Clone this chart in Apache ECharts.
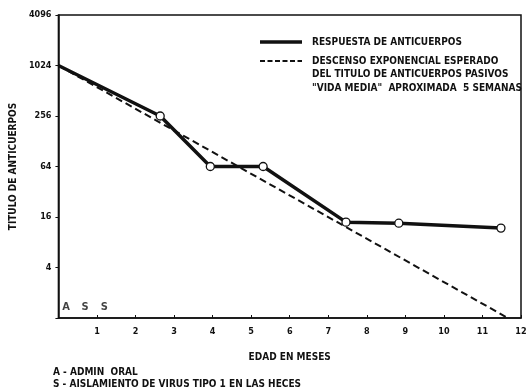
<!DOCTYPE html>
<html><head><meta charset="utf-8">
<script src="https://cdn.jsdelivr.net/npm/echarts@6/dist/echarts.min.js"></script>
<style>html,body{margin:0;padding:0;background:#fff}#c{width:530px;height:389px}</style>
</head><body><div id="c"></div>
<script>
// Data
const responseMonths = [0, 2.64, 3.94, 5.31, 7.46, 8.83, 11.48];
const responseTitre  = [1024, 256, 64, 64, 13.9, 13.5, 11.8];
const expectedMonths = [0, 11.66];
const expectedTitre  = [1024, 1];
const yTickLabels = [4, 16, 64, 256, 1024, 4096];
const xTickLabels = [1, 2, 3, 4, 5, 6, 7, 8, 9, 10, 11, 12];
const eventMonths = [0.20, 0.69, 1.19];
const eventLetters = ['A', 'S', 'S'];
const legendLines = {
  response: 'RESPUESTA DE ANTICUERPOS',
  expected: ['DESCENSO EXPONENCIAL ESPERADO', 'DEL TITULO DE ANTICUERPOS PASIVOS', '"VIDA MEDIA"  APROXIMADA  5 SEMANAS']
};
const footnotes = ['A - ADMIN  ORAL', 'S - AISLAMIENTO DE VIRUS TIPO 1 EN LAS HECES'];

const FONT = "'Liberation Sans Narrow', 'DejaVu Sans Condensed', 'Liberation Sans', sans-serif";
const INK = '#111';
const txt = (extra) => Object.assign({fontFamily: FONT, fontWeight: 'bold', fontSize: 10, fill: INK}, extra);

const chart = echarts.init(document.getElementById('c'), null, {renderer: 'canvas'});
chart.setOption({
  backgroundColor: '#fff',
  animation: false,
  grid: {left: 55, right: 9, top: 15, bottom: 71, show: true, borderColor: INK, borderWidth: 1.5, backgroundColor: 'transparent'},
  xAxis: {
    type: 'value', min: 0, max: 12, interval: 1,
    name: 'EDAD EN MESES', nameLocation: 'middle', nameGap: 34,
    nameTextStyle: {fontFamily: FONT, fontWeight: 'bold', fontSize: 10, color: INK},
    axisLine: {show: true, lineStyle: {color: INK, width: 1.5}},
    axisTick: {show: true, inside: true, length: 3, lineStyle: {color: INK}},
    splitLine: {show: false},
    axisLabel: {
      fontFamily: FONT, fontWeight: 'bold', fontSize: 9, color: INK, margin: 9,
      formatter: v => xTickLabels.indexOf(v) >= 0 ? String(v) : ''
    }
  },
  yAxis: {
    type: 'log', logBase: 4, min: 1, max: 4096,
    name: 'TITULO DE ANTICUERPOS', nameLocation: 'middle', nameGap: 38, nameRotate: 90,
    nameTextStyle: {fontFamily: FONT, fontWeight: 'bold', fontSize: 10, color: INK},
    axisLine: {show: true, lineStyle: {color: INK, width: 1.5}},
    axisTick: {show: true, inside: false, length: 3, lineStyle: {color: INK}},
    splitLine: {show: false},
    axisLabel: {
      fontFamily: FONT, fontWeight: 'bold', fontSize: 9, color: INK, margin: 7,
      formatter: v => yTickLabels.indexOf(Math.round(v)) >= 0 ? String(Math.round(v)) : ''
    }
  },
  series: [
    {
      name: 'expected', type: 'line',
      data: expectedMonths.map((m, i) => [m, expectedTitre[i]]),
      showSymbol: false, symbol: 'none',
      lineStyle: {color: INK, width: 2, type: [7, 4]},
      z: 2
    },
    {
      name: 'response', type: 'line',
      data: responseMonths.map((m, i) => ({value: [m, responseTitre[i]], symbol: i === 0 ? 'none' : 'circle'})),
      symbol: 'circle', symbolSize: 8, showSymbol: true,
      itemStyle: {color: '#fff', borderColor: INK, borderWidth: 1.3},
      lineStyle: {color: INK, width: 3.5},
      z: 3
    },
    {
      name: 'events', type: 'scatter',
      data: eventMonths.map((m, i) => ({value: [m, 1], name: eventLetters[i]})),
      symbolSize: 0,
      label: {show: true, position: 'top', distance: 5, formatter: p => p.name,
        fontFamily: FONT, fontWeight: 'bold', fontSize: 11, color: INK},
      silent: true, z: 4
    }
  ],
  graphic: [
    {type: 'line', shape: {x1: 260, y1: 42, x2: 302, y2: 42}, style: {stroke: INK, lineWidth: 3.5}},
    {type: 'text', x: 312, y: 42, style: txt({text: legendLines.response, verticalAlign: 'middle'})},
    {type: 'line', shape: {x1: 260, y1: 61, x2: 302, y2: 61}, style: {stroke: INK, lineWidth: 2, lineDash: [5, 2.5]}},
    {type: 'text', x: 312, y: 61, style: txt({text: legendLines.expected[0], verticalAlign: 'middle'})},
    {type: 'text', x: 312, y: 74, style: txt({text: legendLines.expected[1], verticalAlign: 'middle'})},
    {type: 'text', x: 312, y: 88, style: txt({text: legendLines.expected[2], verticalAlign: 'middle'})},
    {type: 'text', x: 53, y: 372, style: txt({text: footnotes[0], verticalAlign: 'middle'})},
    {type: 'text', x: 53, y: 384, style: txt({text: footnotes[1], verticalAlign: 'middle'})}
  ]
});
</script></body></html>
